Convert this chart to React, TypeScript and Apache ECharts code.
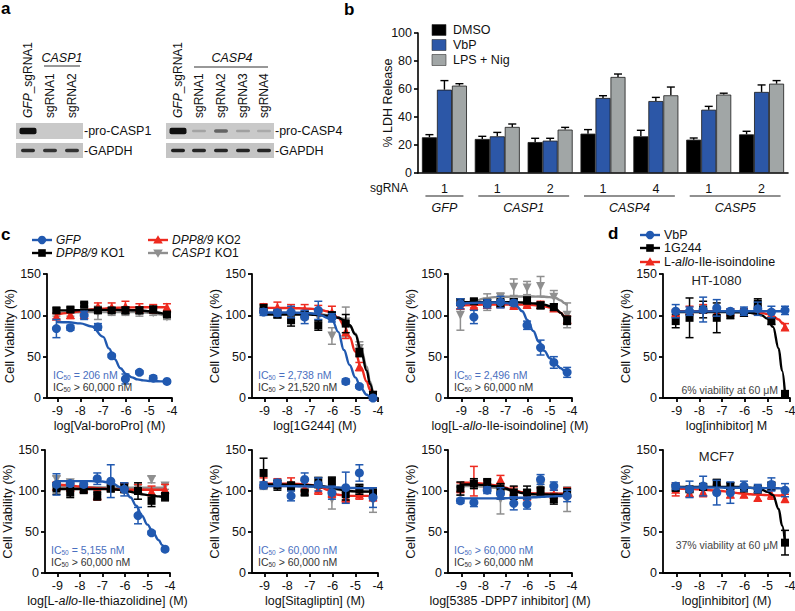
import React, { useEffect, useRef } from 'react';
import * as echarts from 'echarts';

const FONT = '"Liberation Sans", Arial, Helvetica, sans-serif';
const BLUE = '#2159b0';
const BLUE_TXT = '#4a6fc0';
const RED = '#ee2a1f';
const GRAY = '#8f8f8f';
const BLACK = '#000000';
const BAR_BLUE = '#2c57a7';
const BAR_GRAY = '#a1a6a6';
const INK = '#111111';

// ---------- panel a: immunoblot lanes and band intensities ----------
const gel1Lanes = ['{i|GFP}_sgRNA1', 'sgRNA1', 'sgRNA2'];
const gel2Lanes = ['{i|GFP}_sgRNA1', 'sgRNA1', 'sgRNA2', 'sgRNA3', 'sgRNA4'];
const proCasp1Bands = [1, 0, 0];
const gapdh1Bands = [0.85, 0.8, 0.8];
const proCasp4Bands = [1, 0.2, 0.55, 0.22, 0.16];
const gapdh2Bands = [0.92, 0.88, 0.88, 0.88, 0.88];

// ---------- panel b: % LDH release ----------
const bCategories = ['1', '1', '2', '1', '4', '1', '2'];
const bGenes = ['GFP', 'CASP1', 'CASP4', 'CASP5'];
const bGeneSpans = [[0, 0], [1, 2], [3, 4], [5, 6]];
const dmso = [25.5, 24.3, 22.1, 28.1, 26.2, 23.8, 27.6];
const dmsoErr = [1.9, 1.9, 2.7, 2.9, 4.3, 1.2, 2.2];
const vbp = [59.5, 26.2, 23.1, 53.6, 51.4, 45.2, 57.9];
const vbpErr = [6.5, 2.8, 1.7, 1.6, 2.6, 2.4, 5.0];
const lps = [62.4, 32.9, 31.0, 68.6, 55.5, 56.0, 63.8];
const lpsErr = [1.4, 2.1, 1.6, 2.1, 5.9, 1.0, 2.2];
const bYTicks = [0, 20, 40, 60, 80, 100];

// ---------- panels c/d: dose response ----------
const DOSE_LOG = [-9.04, -8.43, -7.83, -7.23, -6.63, -6.03, -5.42, -4.82, -4.22];
const CURVE_LOG = [-9.04, -8.5, -8.0, -7.5, -7.0, -6.75, -6.5, -6.25, -6.0, -5.75, -5.5, -5.25, -5.0, -4.75, -4.5, -4.35, -4.22];
const X_TICKS = [-9, -8, -7, -6, -5, -4];

// c1 Val-boroPro
const c1GfpPts = [84, 85, 100, 86, 51, 23, 31, 24, 20];
const c1GfpErr = [11, 3, 5, 4, 2, 6, 2, 3, 2];
const c1GfpFit = [92, 91.6, 90.3, 86.5, 74, 60, 47, 36, 29, 25, 22.5, 21.3, 20.6, 20.3, 20.1, 20, 20];
const c1Ko1Pts = [106, 107, 113, 106, 106, 106, 106, 107, 101];
const c1Ko1Err = [3, 3, 2, 3, 3, 4, 4, 4, 3];
const c1Ko1Fit = [106, 106, 106.3, 106.5, 106.6, 106.6, 106.6, 106.5, 106.4, 106.2, 106, 105.5, 105, 104, 102.8, 102, 101.5];
const c1Ko2Pts = [99, 101, 101, 111, 110, 111, 109, 108, 110];
const c1Ko2Err = [3, 5, 3, 4, 5, 6, 5, 5, 4];
const c1Ko2Fit = [101, 103, 105, 107, 108, 108.5, 109, 109.3, 109.5, 109.6, 109.7, 109.8, 109.8, 109.8, 109.8, 109.8, 109.8];
const c1CaspPts = [102, 103, 104, 103, 104, 104, 103, 103, 98];
const c1CaspErr = [3, 4, 3, 8, 4, 4, 4, 3, 3];
const c1CaspFit = [103, 103.5, 103.8, 104, 104, 104, 104, 104, 104, 104, 103.8, 103.5, 103, 102, 101, 100, 99];

// c2 1G244
const c2GfpPts = [104, 103, 104, 98, 106, 97, 20, 14, 0];
const c2GfpErr = [4, 4, 7, 8, 11, 5, 3, 2, 1];
const c2GfpFit = [103.5, 103.5, 103.4, 103.2, 102.6, 101.8, 100, 97, 93, 80, 58, 40, 25, 12, 4, 1.5, 0];
const c2Ko1Pts = [108, 101, 94, 101, 88, 100, 90, 55, 4];
const c2Ko1Err = [5, 4, 7, 3, 6, 4, 11, 5, 3];
const c2Ko1Fit = [101, 101, 101, 101, 100.8, 100.5, 100, 99.5, 98.5, 97, 94, 88, 77, 57, 33, 17, 3];
const c2Ko2Pts = [110, 110, 108, 107, 106, 104, 80, 38, 2];
const c2Ko2Err = [4, 6, 5, 6, 6, 7, 8, 5, 2];
const c2Ko2Fit = [109, 109, 108.8, 108.5, 108, 107.5, 106.5, 105, 102, 97, 88, 74, 56, 37, 20, 10, 2];
const c2CaspPts = [104, 102, 100, 100, 98, 75, 92, 60, 3];
const c2CaspErr = [4, 5, 5, 5, 6, 10, 18, 8, 2];
const c2CaspFit = [102, 102, 102, 102, 101.8, 101.5, 101, 100.3, 99, 97, 94, 88, 78, 60, 38, 20, 4];

// c3 L-allo-Ile-isoindoline
const c3GfpPts = [114, 98, 114, 116, 115, 88, 61, 43, 31];
const c3GfpErr = [6, 8, 5, 7, 3, 5, 9, 7, 6];
const c3GfpFit = [114, 115, 115.5, 115.5, 115, 114, 111, 105, 94, 81, 68, 57, 48, 41, 36, 33, 31];
const c3Ko1Pts = [116, 117, 115, 115, 116, 118, 112, 110, 94];
const c3Ko1Err = [4, 3, 4, 5, 4, 4, 4, 4, 5];
const c3Ko1Fit = [116, 116, 116, 116, 116, 116, 115.8, 115.5, 115, 114.5, 114, 113, 111, 108, 103, 98, 94];
const c3Ko2Pts = [112, 112, 113, 114, 112, 113, 113, 109, 95];
const c3Ko2Err = [4, 3, 4, 3, 3, 3, 4, 4, 4];
const c3Ko2Fit = [112, 112.5, 113, 113, 113, 113, 113, 113, 112.8, 112.5, 112, 111, 109.5, 107, 103, 99, 95];
const c3CaspPts = [100, 113, 116, 122, 134, 133, 135, 122, 100];
const c3CaspErr = [18, 6, 10, 5, 10, 8, 12, 8, 15];
const c3CaspFit = [110, 116, 120, 122, 122.5, 122.6, 122.7, 122.7, 122.7, 122.7, 122.6, 122.5, 122, 121, 118, 115, 112];

// c4 L-allo-Ile-thiazolidine
const c4GfpPts = [108, 109, 108, 115, 112, 102, 70, 49, 29];
const c4GfpErr = [13, 3, 3, 7, 20, 8, 10, 2, 2];
const c4GfpFit = [112, 112, 112, 112, 111.5, 110.5, 108.5, 105, 100, 92, 82, 70, 59, 49, 40, 34, 29];
const c4Ko1Pts = [103, 98, 102, 94, 103, 104, 100, 88, 93];
const c4Ko1Err = [7, 6, 5, 5, 4, 6, 10, 7, 5];
const c4Ko1Fit = [102.5, 102.5, 102.5, 102.5, 102.4, 102.3, 102, 101.5, 100.5, 99, 97.5, 96, 95, 94, 93.5, 93, 93];
const c4Ko2Pts = [106, 105, 103, 95, 106, 104, 103, 100, 102];
const c4Ko2Err = [5, 5, 4, 6, 5, 5, 5, 6, 6];
const c4Ko2Fit = [108, 107, 105.5, 104, 103, 102.5, 102, 101.8, 101.7, 101.6, 101.5, 101.5, 101.5, 101.5, 101.5, 101.5, 101.5];
const c4CaspPts = [114, 110, 104, 100, 104, 104, 103, 114, 106];
const c4CaspErr = [4, 3, 4, 4, 4, 5, 5, 4, 4];
const c4CaspFit = [105, 105, 104.8, 104.5, 104.3, 104.2, 104.1, 104, 104, 104, 104, 104, 104, 104, 104, 104, 104];

// c5 Sitagliptin
const c5GfpPts = [107, 110, 94, 114, 108, 98, 104, 122, 92];
const c5GfpErr = [4, 4, 6, 8, 8, 8, 19, 10, 12];
const c5GfpFit = [106, 106, 106, 105.8, 105.5, 105.3, 105, 104.8, 104.5, 104.3, 104, 103.8, 103.6, 103.5, 103.4, 103.3, 103.3];
const c5Ko1Pts = [122, 107, 106, 98, 110, 112, 96, 102, 98];
const c5Ko1Err = [18, 6, 5, 3, 6, 5, 7, 6, 6];
const c5Ko1Fit = [108, 108, 107.8, 107.5, 107, 106.5, 106, 105, 104, 102.5, 101, 100, 99.5, 99.3, 99.2, 99.2, 99.2];
const c5Ko2Pts = [110, 110, 110, 104, 102, 98, 92, 96, 93];
const c5Ko2Err = [6, 5, 6, 4, 6, 6, 6, 6, 5];
const c5Ko2Fit = [109, 109, 108.8, 108.5, 107.5, 106.5, 104.5, 101.5, 98, 95.5, 94.5, 94, 94, 94, 94, 94, 94];
const c5CaspPts = [106, 108, 105, 108, 112, 90, 96, 102, 88];
const c5CaspErr = [4, 5, 5, 5, 5, 12, 7, 6, 14];
const c5CaspFit = [106, 106, 106, 105.8, 105.5, 105, 104.3, 103.5, 102.5, 101.5, 100.5, 100, 99.7, 99.5, 99.4, 99.4, 99.4];

// c6 5385-DPP7 inhibitor
const c6GfpPts = [88, 86, 101, 97, 85, 84, 114, 106, 94];
const c6GfpErr = [3, 5, 4, 7, 8, 6, 6, 5, 7];
const c6GfpFit = [91, 91, 91, 91, 91.2, 91.4, 91.6, 91.8, 92, 92.3, 92.6, 93, 93.3, 93.6, 93.8, 94, 94];
const c6Ko1Pts = [103, 109, 110, 103, 98, 98, 100, 90, 98];
const c6Ko1Err = [8, 6, 5, 6, 8, 8, 5, 6, 5];
const c6Ko1Fit = [108, 108, 107.5, 106, 103, 101, 99, 97.5, 96.5, 96, 95.8, 95.7, 95.6, 95.6, 95.6, 95.6, 95.6];
const c6Ko2Pts = [104, 112, 108, 114, 100, 95, 98, 96, 98];
const c6Ko2Err = [6, 18, 5, 5, 5, 6, 5, 5, 6];
const c6Ko2Fit = [110, 110, 109, 107, 104, 102, 100, 98.5, 97.5, 97, 96.8, 96.7, 96.7, 96.7, 96.7, 96.7, 96.7];
const c6CaspPts = [100, 108, 104, 90, 98, 96, 106, 92, 90];
const c6CaspErr = [5, 5, 5, 18, 5, 6, 8, 6, 15];
const c6CaspFit = [106, 106, 105.5, 104, 102, 100.5, 99, 98, 97.3, 97, 96.8, 96.7, 96.6, 96.6, 96.6, 96.6, 96.6];

// d1 HT-1080
const d1VbpPts = [105, 105, 107, 109, 105, 105, 108, 104, 106];
const d1VbpErr = [8, 5, 15, 10, 3, 5, 8, 7, 5];
const d1VbpFit = [104.5, 104.6, 104.7, 104.8, 104.9, 105, 105, 105, 105, 105, 105, 105, 105, 105, 105, 105, 105];
const d1G244Pts = [93, 97, 107, 97, 101, 103, 114, 93, 5];
const d1G244Err = [8, 24, 10, 18, 5, 4, 6, 4, 2];
const d1G244Fit = [104, 104, 104, 104, 104, 104, 103.8, 103.7, 103.5, 103, 102, 100, 96, 86, 60, 33, 5];
const d1IsoPts = [103, 106, 108, 104, 104, 104, 106, 102, 86];
const d1IsoErr = [4, 5, 5, 4, 4, 4, 5, 4, 4];
const d1IsoFit = [105, 105, 105, 105, 105, 105, 105, 105, 104.8, 104.5, 104, 103, 101.5, 99, 95, 91, 87];

// d2 MCF7
const d2VbpPts = [106, 102, 106, 98, 98, 106, 103, 108, 101];
const d2VbpErr = [4, 10, 12, 15, 13, 6, 5, 8, 8];
const d2VbpFit = [104.5, 104.4, 104.3, 104.2, 104.1, 104, 104, 104, 103.9, 103.8, 103.7, 103.6, 103.5, 103.4, 103.3, 103.2, 103.1];
const d2G244Pts = [104, 102, 105, 110, 106, 103, 102, 106, 37];
const d2G244Err = [4, 3, 4, 4, 4, 3, 4, 5, 15];
const d2G244Fit = [105, 105, 105, 105, 105, 105, 105, 104.8, 104.5, 104, 103, 101.5, 99, 95, 78, 58, 37];
const d2IsoPts = [102, 98, 99, 103, 96, 96, 92, 96, 91];
const d2IsoErr = [8, 5, 6, 5, 4, 4, 4, 6, 5];
const d2IsoFit = [103, 102.5, 102, 101, 100, 99, 98, 97.3, 96.6, 96, 95.6, 95.3, 95, 94.8, 94.6, 94.5, 94.5];

// ---------- layout ----------
const B_GRID = { left: 418, top: 33, width: 370, height: 140 };

type Grp = { pts: number[]; err: number[]; fit: number[]; color: string; symbol: string; rotate?: number; size?: number };
const cStyle = [
  { color: GRAY, symbol: 'triangle', rotate: 180, size: 9 },
  { color: RED, symbol: 'triangle', rotate: 0, size: 9 },
  { color: BLACK, symbol: 'rect', size: 8 },
  { color: BLUE, symbol: 'circle', size: 9 },
];
const dStyle = [
  { color: RED, symbol: 'triangle', rotate: 0, size: 9 },
  { color: BLACK, symbol: 'rect', size: 8 },
  { color: BLUE, symbol: 'circle', size: 9 },
];
function mk(style: any[], sets: number[][][]): Grp[] {
  return sets.map((s, i) => ({ pts: s[0], err: s[1], fit: s[2], ...style[i] }));
}

const PLOTS = [
  { grid: { left: 47, top: 274, width: 125, height: 124 }, xMin: -9.45, xName: 'log[Val-boroPro] (M)', ic: ['= 206 nM', '> 60,000 nM'],
    groups: mk(cStyle, [[c1CaspPts, c1CaspErr, c1CaspFit], [c1Ko2Pts, c1Ko2Err, c1Ko2Fit], [c1Ko1Pts, c1Ko1Err, c1Ko1Fit], [c1GfpPts, c1GfpErr, c1GfpFit]]) },
  { grid: { left: 252, top: 274, width: 126, height: 124 }, xMin: -9.55, xName: 'log[1G244] (M)', ic: ['= 2,738 nM', '> 21,520 nM'],
    groups: mk(cStyle, [[c2CaspPts, c2CaspErr, c2CaspFit], [c2Ko2Pts, c2Ko2Err, c2Ko2Fit], [c2Ko1Pts, c2Ko1Err, c2Ko1Fit], [c2GfpPts, c2GfpErr, c2GfpFit]]) },
  { grid: { left: 448, top: 274, width: 124, height: 124 }, xMin: -9.6, xName: 'log[L-{i|allo}-Ile-isoindoline] (M)', ic: ['= 2,496 nM', '> 60,000 nM'],
    groups: mk(cStyle, [[c3CaspPts, c3CaspErr, c3CaspFit], [c3Ko2Pts, c3Ko2Err, c3Ko2Fit], [c3Ko1Pts, c3Ko1Err, c3Ko1Fit], [c3GfpPts, c3GfpErr, c3GfpFit]]) },
  { grid: { left: 663, top: 274, width: 127, height: 124 }, xMin: -9.6, xName: 'log[inhibitor] M', title: 'HT-1080', note: '6% viability at 60 \u03bcM',
    groups: mk(dStyle, [[d1IsoPts, d1IsoErr, d1IsoFit], [d1G244Pts, d1G244Err, d1G244Fit], [d1VbpPts, d1VbpErr, d1VbpFit]]) },
  { grid: { left: 45, top: 450, width: 125, height: 123 }, xMin: -9.55, xName: 'log[L-{i|allo}-Ile-thiazolidine] (M)', ic: ['= 5,155 nM', '> 60,000 nM'],
    groups: mk(cStyle, [[c4CaspPts, c4CaspErr, c4CaspFit], [c4Ko2Pts, c4Ko2Err, c4Ko2Fit], [c4Ko1Pts, c4Ko1Err, c4Ko1Fit], [c4GfpPts, c4GfpErr, c4GfpFit]]) },
  { grid: { left: 252, top: 450, width: 126, height: 123 }, xMin: -9.55, xName: 'log[Sitagliptin] (M)', ic: ['> 60,000 nM', '> 60,000 nM'],
    groups: mk(cStyle, [[c5CaspPts, c5CaspErr, c5CaspFit], [c5Ko2Pts, c5Ko2Err, c5Ko2Fit], [c5Ko1Pts, c5Ko1Err, c5Ko1Fit], [c5GfpPts, c5GfpErr, c5GfpFit]]) },
  { grid: { left: 448, top: 450, width: 124, height: 123 }, xMin: -9.6, xName: 'log[5385 -DPP7 inhibitor] (M)', ic: ['> 60,000 nM', '> 60,000 nM'],
    groups: mk(cStyle, [[c6CaspPts, c6CaspErr, c6CaspFit], [c6Ko2Pts, c6Ko2Err, c6Ko2Fit], [c6Ko1Pts, c6Ko1Err, c6Ko1Fit], [c6GfpPts, c6GfpErr, c6GfpFit]]) },
  { grid: { left: 663, top: 450, width: 127, height: 123 }, xMin: -9.6, xName: 'log[inhibitor] (M)', title: 'MCF7', note: '37% viability at 60 \u03bcM', noteDy: -28,
    groups: mk(dStyle, [[d2IsoPts, d2IsoErr, d2IsoFit], [d2G244Pts, d2G244Err, d2G244Fit], [d2VbpPts, d2VbpErr, d2VbpFit]]) },
];

// ---------- helpers ----------
function errRender(color: string, offset = 0, upOnly = false, cap = 4, lw = 1.5) {
  return (_p: any, api: any) => {
    const x = api.value(0), y = api.value(1), e = api.value(2);
    const p0 = api.coord([x, y]);
    const pt = api.coord([x, y + e]);
    const pb = api.coord([x, Math.max(0, y - e)]);
    const cx = p0[0] + offset;
    const st = { stroke: color, lineWidth: lw };
    const ch: any[] = [
      { type: 'line', shape: { x1: cx, y1: upOnly ? p0[1] : pb[1], x2: cx, y2: pt[1] }, style: st },
      { type: 'line', shape: { x1: cx - cap, y1: pt[1], x2: cx + cap, y2: pt[1] }, style: st },
    ];
    if (!upOnly) ch.push({ type: 'line', shape: { x1: cx - cap, y1: pb[1], x2: cx + cap, y2: pb[1] }, style: st });
    return { type: 'group', children: ch };
  };
}

function txt(x: number, y: number, text: string, o: any = {}, rotation = 0) {
  const fs = o.fontSize ?? 12;
  return {
    type: 'text', x, y, rotation, silent: true, z: 100,
    style: {
      text, fill: INK, fontSize: fs, fontFamily: FONT, align: 'left', verticalAlign: 'middle',
      rich: { i: { fontStyle: 'italic', fontSize: fs, fontFamily: FONT, fill: o.fill ?? INK } },
      ...o,
    },
  };
}

function marker(kind: string, cx: number, cy: number, color: string) {
  if (kind === 'circle') return { type: 'circle', shape: { cx, cy, r: 4.2 }, style: { fill: color }, silent: true, z: 101 };
  if (kind === 'rect') return { type: 'rect', shape: { x: cx - 3.8, y: cy - 3.8, width: 7.6, height: 7.6 }, style: { fill: color }, silent: true, z: 101 };
  if (kind === 'tri') return { type: 'polygon', shape: { points: [[cx, cy - 4.8], [cx + 4.8, cy + 3.6], [cx - 4.8, cy + 3.6]] }, style: { fill: color }, silent: true, z: 101 };
  return { type: 'polygon', shape: { points: [[cx, cy + 4.8], [cx + 4.8, cy - 3.6], [cx - 4.8, cy - 3.6]] }, style: { fill: color }, silent: true, z: 101 };
}

function legendRow(x: number, y: number, kind: string, color: string, label: string, fs = 12) {
  return [
    { type: 'line', shape: { x1: x, y1: y, x2: x + 20, y2: y }, style: { stroke: color, lineWidth: 2.4 }, silent: true, z: 100 },
    marker(kind, x + 10, y, color),
    txt(x + 24, y, label, { fontSize: fs }),
  ];
}

function gelGraphics() {
  const els: any[] = [];
  const rows = [{ y: 123, h: 16 }, { y: 143, h: 15 }];
  const gels = [
    { x: 16, w: 67, lanes: [28, 50, 72], labels: gel1Lanes, bands: [proCasp1Bands, gapdh1Bands], names: ['-pro-CASP1', '-GAPDH'] },
    { x: 166, w: 108, lanes: [178, 199, 221, 243, 264], labels: gel2Lanes, bands: [proCasp4Bands, gapdh2Bands], names: ['-pro-CASP4', '-GAPDH'] },
  ];
  gels.forEach((g) => {
    rows.forEach((r, ri) => {
      els.push({ type: 'rect', shape: { x: g.x, y: r.y, width: g.w, height: r.h }, style: { fill: ri === 0 ? '#c9c9c9' : '#c4c4c4' }, silent: true });
      g.bands[ri].forEach((a, li) => {
        if (a <= 0) return;
        const strong = ri === 0 && a > 0.9;
        const h = ri === 0 ? (strong ? 6.5 : 2 + 3 * a) : 3.5;
        const w = strong ? 17 : 14;
        els.push({ type: 'rect', shape: { x: g.lanes[li] - w / 2, y: r.y + r.h / 2 - h / 2, width: w, height: h, r: 2 }, style: { fill: `rgba(15,15,15,${a})` }, silent: true });
      });
      els.push(txt(g.x + g.w + 1, r.y + r.h / 2, g.names[ri], { fontSize: 12.5 }));
    });
    g.labels.forEach((l, li) => els.push(txt(g.lanes[li], 118, l, { fontSize: 12 }, Math.PI / 2)));
  });
  els.push(txt(62, 58, '{i|CASP1}', { fontSize: 12.5, align: 'center' }));
  els.push({ type: 'line', shape: { x1: 44, y1: 66, x2: 80, y2: 66 }, style: { stroke: '#333', lineWidth: 1 }, silent: true });
  els.push(txt(232, 58, '{i|CASP4}', { fontSize: 12.5, align: 'center' }));
  els.push({ type: 'line', shape: { x1: 194, y1: 67, x2: 268, y2: 67 }, style: { stroke: '#333', lineWidth: 1.2 }, silent: true });
  return els;
}

function bGraphics() {
  const els: any[] = [];
  const w = B_GRID.width / bCategories.length;
  const cx = (i: number) => B_GRID.left + (i + 0.5) * w;
  // legend
  const leg = [['DMSO', BLACK], ['VbP', BAR_BLUE], ['LPS + Nig', BAR_GRAY]];
  leg.forEach((l, i) => {
    const y = 30 + i * 15;
    els.push({ type: 'rect', shape: { x: 432, y: y - 5.5, width: 14, height: 11 }, style: { fill: l[1], stroke: '#333', lineWidth: 0.6 }, silent: true, z: 100 });
    els.push(txt(453, y, l[0], { fontSize: 12.5 }));
  });
  els.push(txt(388, 103, '% LDH Release', { fontSize: 12.5, align: 'center' }, Math.PI / 2));
  els.push(txt(408, 188, 'sgRNA', { fontSize: 12, align: 'right' }));
  bGeneSpans.forEach((s, gi) => {
    const x1 = cx(s[0]) - 19, x2 = cx(s[1]) + 19;
    els.push({ type: 'line', shape: { x1, y1: 196, x2, y2: 196 }, style: { stroke: '#222', lineWidth: 1.2 }, silent: true });
    els.push(txt((x1 + x2) / 2, 208, `{i|${bGenes[gi]}}`, { fontSize: 12.5, align: 'center' }));
  });
  return els;
}

function cdGraphics() {
  const els: any[] = [];
  // panel letters
  const bold = { fontSize: 17, fontWeight: 'bold', verticalAlign: 'top', fill: '#000' };
  els.push(txt(1, 0, 'a', bold));
  els.push(txt(344, 1, 'b', bold));
  els.push(txt(1, 226, 'c', bold));
  els.push(txt(608, 225, 'd', bold));
  // c legend
  els.push(...legendRow(32, 240, 'circle', BLUE, '{i|GFP}'));
  els.push(...legendRow(32, 253, 'rect', BLACK, '{i|DPP8/9} KO1'));
  els.push(...legendRow(148, 240, 'tri', RED, '{i|DPP8/9} KO2'));
  els.push(...legendRow(148, 253, 'itri', GRAY, '{i|CASP1} KO1'));
  // d legend
  els.push(...legendRow(640, 235, 'circle', BLUE, 'VbP', 12.5));
  els.push(...legendRow(640, 248, 'rect', BLACK, '1G244', 12.5));
  els.push(...legendRow(640, 262, 'tri', RED, 'L-{i|allo}-Ile-isoindoline', 12.5));
  // per-plot annotations
  PLOTS.forEach((p: any) => {
    const g = p.grid;
    const bottom = g.top + g.height;
    if (p.ic) {
      const mkIc = (s: string, col: string) => ({
        type: 'text', x: g.left + 6, y: 0, silent: true, z: 100,
        style: {
          text: `{n|IC}{s|50}{n| ${s}}`, fontFamily: FONT, verticalAlign: 'middle', align: 'left',
          rich: {
            n: { fontSize: 10.5, fontFamily: FONT, fill: col },
            s: { fontSize: 6.5, fontFamily: FONT, fill: col, verticalAlign: 'bottom', padding: [5, 0, 0, 0] },
          },
        },
      });
      const a = mkIc(p.ic[0], BLUE_TXT); a.y = bottom - 23;
      const b = mkIc(p.ic[1], '#333333'); b.y = bottom - 11;
      els.push(a, b);
    }
    if (p.title) els.push(txt(g.left + g.width / 2 - 10, g.top + 6, p.title, { fontSize: 13, align: 'center', fill: '#222' }));
    if (p.note) els.push(txt(g.left + g.width - 12, bottom + (p.noteDy ?? -8), p.note, { fontSize: 10.5, align: 'right', fill: '#444' }));
  });
  return els;
}

function buildOption() {
  const grids: any[] = [{ ...B_GRID, outerBoundsMode: 'none', containLabel: false }];
  const xAxes: any[] = [{
    type: 'category', gridIndex: 0, data: bCategories,
    axisLine: { show: true, lineStyle: { color: '#000', width: 1.6 } },
    axisTick: { show: false },
    axisLabel: { fontSize: 12.5, color: INK, margin: 9, fontFamily: FONT },
    splitLine: { show: false },
  }];
  const yAxes: any[] = [{
    type: 'value', gridIndex: 0, min: 0, max: 100, interval: 20,
    axisLine: { show: true, onZero: false, lineStyle: { color: '#000', width: 1.6 } },
    axisTick: { show: true, length: 4, lineStyle: { color: '#000', width: 1.6 } },
    axisLabel: { fontSize: 12.5, color: INK, margin: 6, fontFamily: FONT, customValues: bYTicks },
    splitLine: { show: false },
  }];
  const series: any[] = [];
  const bars = [
    { data: dmso, err: dmsoErr, color: BLACK, off: -15 },
    { data: vbp, err: vbpErr, color: BAR_BLUE, off: 0 },
    { data: lps, err: lpsErr, color: BAR_GRAY, off: 15 },
  ];
  bars.forEach((b) => {
    series.push({
      type: 'bar', xAxisIndex: 0, yAxisIndex: 0, data: b.data, barWidth: 15, barGap: '0%',
      itemStyle: { color: b.color, borderColor: '#1a1a1a', borderWidth: 0.8 }, silent: true, z: 3,
    });
    series.push({
      type: 'custom', xAxisIndex: 0, yAxisIndex: 0, silent: true, z: 2,
      data: b.data.map((v, i) => [i, v, b.err[i]]),
      renderItem: errRender('#000', b.off, true, 4, 1.4),
    });
  });

  PLOTS.forEach((p: any, k) => {
    const gi = k + 1;
    grids.push({ ...p.grid, outerBoundsMode: 'none', containLabel: false });
    xAxes.push({
      type: 'value', gridIndex: gi, min: p.xMin, max: -4,
      axisLine: { show: true, onZero: false, lineStyle: { color: '#000', width: 1.8 } },
      axisTick: { show: true, length: 4, customValues: X_TICKS, lineStyle: { color: '#000', width: 1.8 } },
      axisLabel: { customValues: X_TICKS, fontSize: 12.5, color: INK, margin: 6, fontFamily: FONT },
      splitLine: { show: false },
      name: p.xName, nameLocation: 'middle', nameGap: 21,
      nameTextStyle: { fontSize: 12.5, color: INK, fontFamily: FONT, rich: { i: { fontStyle: 'italic', fontSize: 12.5, color: INK, fontFamily: FONT } } },
    });
    yAxes.push({
      type: 'value', gridIndex: gi, min: 0, max: 150, interval: 50,
      axisLine: { show: true, onZero: false, lineStyle: { color: '#000', width: 1.8 } },
      axisTick: { show: true, length: 4, lineStyle: { color: '#000', width: 1.8 } },
      axisLabel: { fontSize: 12.5, color: INK, margin: 6, fontFamily: FONT },
      splitLine: { show: false },
      name: 'Cell Viability (%)', nameLocation: 'middle', nameGap: 29,
      nameTextStyle: { fontSize: 13, color: INK, fontFamily: FONT },
    });
    (p.groups as Grp[]).forEach((g, j) => {
      const z = 3 + j * 3;
      series.push({
        type: 'line', xAxisIndex: gi, yAxisIndex: gi, silent: true, z,
        data: CURVE_LOG.map((x, i) => [x, g.fit[i]]), smooth: 0.4, smoothMonotone: 'x',
        showSymbol: false, symbol: 'none', lineStyle: { color: g.color, width: 2.4 },
      });
      series.push({
        type: 'custom', xAxisIndex: gi, yAxisIndex: gi, silent: true, z: z + 1, clip: false,
        data: DOSE_LOG.map((x, i) => [x, g.pts[i], g.err[i]]),
        renderItem: errRender(g.color),
      });
      series.push({
        type: 'scatter', xAxisIndex: gi, yAxisIndex: gi, silent: true, z: z + 2,
        data: DOSE_LOG.map((x, i) => [x, g.pts[i]]),
        symbol: g.symbol, symbolSize: g.size ?? 8, symbolRotate: g.rotate ?? 0,
        itemStyle: { color: g.color, opacity: 1 },
      });
    });
  });

  return {
    animation: false,
    backgroundColor: '#ffffff',
    textStyle: { fontFamily: FONT },
    grid: grids,
    xAxis: xAxes,
    yAxis: yAxes,
    series,
    graphic: { elements: [...gelGraphics(), ...bGraphics(), ...cdGraphics()] },
  };
}

export default function App() {
  const ref = useRef<HTMLDivElement>(null);
  useEffect(() => {
    if (!ref.current) return;
    const chart = echarts.init(ref.current, null, { renderer: 'svg', width: 795, height: 611 });
    chart.setOption(buildOption() as any);
    return () => chart.dispose();
  }, []);
  return (
    <div
      ref={ref}
      style={{ position: 'fixed', left: 0, top: 0, width: 795, height: 611, background: '#fff' }}
    />
  );
}
